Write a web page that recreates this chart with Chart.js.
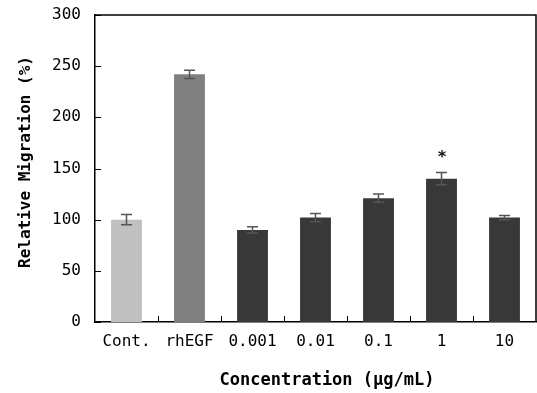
<!DOCTYPE html>
<html>
<head>
<meta charset="utf-8">
<script src="https://cdn.jsdelivr.net/npm/chart.js@4.4.1/dist/chart.umd.min.js"></script>
<style>
  html, body { margin: 0; padding: 0; background: #fff; }
  #wrap { width: 537px; height: 393px; }
</style>
</head>
<body>
<div id="wrap"><canvas id="c" width="537" height="393"></canvas></div>
<script>
// ---- data ----
const categories = ['Cont.', 'rhEGF', '0.001', '0.01', '0.1', '1', '10'];
const values = [100, 242, 90, 102, 121, 140, 102];
const errors = [5, 4, 3, 4, 4, 6, 2];
const significant = [false, false, false, false, false, true, false];
const yTicks = [0, 50, 100, 150, 200, 250, 300];
const xTitle = 'Concentration (\u03bcg/mL)';
const yTitle = 'Relative Migration (%)';

const MONO = '"DejaVu Sans Mono", "Liberation Mono", monospace';

const extras = {
  id: 'extras',
  afterDatasetsDraw(chart) {
    const ctx = chart.ctx;
    const xs = chart.scales.x, ys = chart.scales.y;
    const area = chart.chartArea;
    ctx.save();
    // error bars
    ctx.strokeStyle = '#555';
    ctx.lineWidth = 1.5;
    const meta = chart.getDatasetMeta(0);
    values.forEach((v, i) => {
      const x = meta.data[i].x;
      const yTop = ys.getPixelForValue(v + errors[i]);
      const yBot = ys.getPixelForValue(v - errors[i]);
      ctx.beginPath();
      ctx.moveTo(x, yTop); ctx.lineTo(x, yBot);
      ctx.moveTo(x - 5.5, yTop); ctx.lineTo(x + 5.5, yTop);
      ctx.moveTo(x - 5.5, yBot); ctx.lineTo(x + 5.5, yBot);
      ctx.stroke();
      if (significant[i]) {
        ctx.fillStyle = '#111';
        ctx.font = 'bold 16px ' + MONO;
        ctx.textAlign = 'center';
        ctx.textBaseline = 'middle';
        ctx.fillText('*', x + 0.5, ys.getPixelForValue(v + errors[i]) - 15);
      }
    });
    // frame top & right
    ctx.strokeStyle = '#000';
    ctx.lineWidth = 1.5;
    ctx.beginPath();
    ctx.moveTo(area.left, area.top); ctx.lineTo(area.right, area.top);
    ctx.lineTo(area.right, area.bottom);
    ctx.stroke();
    // inward y ticks
    ctx.lineWidth = 1;
    ctx.beginPath();
    yTicks.forEach(t => {
      const y = Math.round(ys.getPixelForValue(t)) + 0.5;
      ctx.moveTo(area.left, y); ctx.lineTo(area.left + 6, y);
    });
    // inward x ticks between categories
    for (let i = 1; i < categories.length; i++) {
      const x = Math.round((xs.getPixelForValue(i - 1) + xs.getPixelForValue(i)) / 2) + 0.5;
      ctx.moveTo(x, area.bottom); ctx.lineTo(x, area.bottom - 6);
    }
    ctx.stroke();
    // titles
    ctx.fillStyle = '#000';
    ctx.textAlign = 'center';
    ctx.textBaseline = 'middle';
    ctx.font = 'bold 17px ' + MONO;
    ctx.fillText(xTitle, 327, 381);
    ctx.save();
    ctx.translate(26, 162);
    ctx.rotate(-Math.PI / 2);
    ctx.font = 'bold 16px ' + MONO;
    ctx.fillText(yTitle, 0, 0);
    ctx.restore();
    ctx.restore();
  }
};

new Chart(document.getElementById('c'), {
  type: 'bar',
  data: {
    labels: categories,
    datasets: [{
      data: values,
      backgroundColor: ['#c0c0c0', '#808080', '#383838', '#383838', '#383838', '#383838', '#383838'],
      borderWidth: 0,
      categoryPercentage: 1.0,
      barPercentage: 0.49
    }]
  },
  options: {
    responsive: false,
    animation: false,
    devicePixelRatio: 1,
    layout: { padding: { top: 15, right: 1, left: 0, bottom: 0 } },
    plugins: { legend: { display: false }, tooltip: { enabled: false } },
    scales: {
      y: {
        min: 0, max: 300,
        afterBuildTicks: s => { s.ticks = yTicks.map(v => ({ value: v })); },
        ticks: { color: '#000', font: { family: MONO, size: 16 }, padding: 14 },
        grid: { display: false, drawTicks: false },
        border: { display: true, color: '#000', width: 1.5 },
        afterFit: s => { s.width = 95; s.paddingTop = 0; s.paddingBottom = 0; }
      },
      x: {
        ticks: { color: '#000', font: { family: MONO, size: 16 }, padding: 10 },
        grid: { display: false, drawTicks: false },
        border: { display: true, color: '#000', width: 1.5 },
        afterFit: s => { s.height = 71; s.paddingLeft = 0; s.paddingRight = 0; }
      }
    }
  },
  plugins: [extras]
});
</script>
</body>
</html>
